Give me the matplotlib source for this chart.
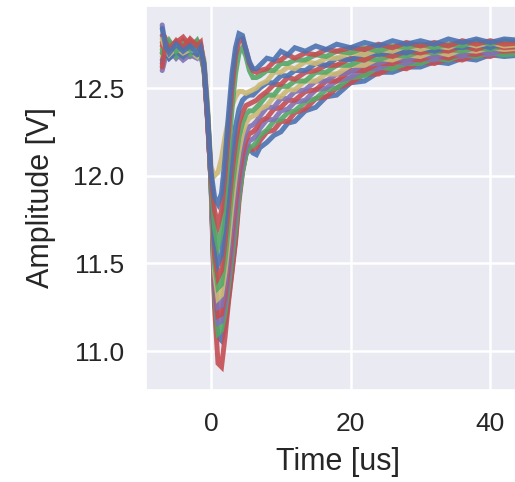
import matplotlib
matplotlib.use("Agg")
import matplotlib.pyplot as plt
import seaborn as sns

sns.set_theme(style="darkgrid")
plt.rcParams["font.family"] = ["Liberation Sans", "DejaVu Sans"]

# Sample times of every recorded trace [us]
time_us = [-7.0, -6.5, -6, -5, -4, -3, -2, -1.5, -1, -0.5, 0,
           0.5, 1, 1.5, 2, 2.5, 3, 3.5, 4, 4.5, 5, 5.5, 6, 6.5, 7,
           8, 9, 10, 11, 12, 13.5, 15, 16.5, 18,
           20, 22, 24, 26, 28, 30, 32, 34, 36, 38, 40, 42, 45]

# Recorded supply amplitude of each event [V]
trace_01 = [12.84, 12.74, 12.70, 12.75, 12.71, 12.74, 12.70, 12.73, 12.64, 12.36, 12.02,
            11.88, 11.84, 11.90, 12.10, 12.35, 12.58, 12.73, 12.81, 12.80, 12.72, 12.65, 12.61, 12.61, 12.63,
            12.67, 12.66, 12.71, 12.69, 12.73, 12.71, 12.74, 12.72, 12.75,
            12.73, 12.76, 12.74, 12.77, 12.75, 12.77, 12.75, 12.78, 12.76, 12.78, 12.76, 12.78, 12.77]
trace_02 = [12.62, 12.76, 12.72, 12.77, 12.73, 12.78, 12.74, 12.76, 12.62, 12.33, 12.00,
            11.80, 11.72, 11.80, 12.00, 12.25, 12.50, 12.68, 12.77, 12.78, 12.72, 12.64, 12.60, 12.59, 12.60,
            12.61, 12.65, 12.66, 12.69, 12.67, 12.70, 12.69, 12.72, 12.71,
            12.73, 12.72, 12.75, 12.73, 12.76, 12.74, 12.76, 12.74, 12.77, 12.75, 12.77, 12.75, 12.76]
trace_03 = [12.70, 12.73, 12.77, 12.71, 12.75, 12.72, 12.77, 12.72, 12.60, 12.35, 11.98,
            11.70, 11.60, 11.68, 11.88, 12.12, 12.38, 12.58, 12.70, 12.73, 12.68, 12.60, 12.56, 12.56, 12.57,
            12.60, 12.60, 12.64, 12.64, 12.66, 12.66, 12.69, 12.68, 12.71,
            12.70, 12.73, 12.71, 12.74, 12.73, 12.75, 12.73, 12.75, 12.74, 12.77, 12.75, 12.77, 12.76]
trace_04 = [12.78, 12.72, 12.69, 12.73, 12.70, 12.72, 12.71, 12.74, 12.66, 12.40, 12.05,
            12.00, 12.02, 12.10, 12.22, 12.32, 12.40, 12.45, 12.48, 12.48, 12.47, 12.48, 12.49, 12.50, 12.52,
            12.54, 12.59, 12.59, 12.62, 12.61, 12.65, 12.64, 12.67, 12.67,
            12.70, 12.69, 12.72, 12.71, 12.74, 12.72, 12.74, 12.73, 12.76, 12.74, 12.76, 12.74, 12.75]
trace_05 = [12.66, 12.70, 12.67, 12.71, 12.68, 12.72, 12.69, 12.70, 12.62, 12.34, 11.98,
            11.62, 11.50, 11.55, 11.72, 11.92, 12.12, 12.28, 12.38, 12.43, 12.45, 12.46, 12.46, 12.48, 12.50,
            12.53, 12.53, 12.57, 12.57, 12.60, 12.60, 12.64, 12.63, 12.67,
            12.66, 12.70, 12.69, 12.71, 12.70, 12.73, 12.71, 12.74, 12.73, 12.75, 12.73, 12.76, 12.74]
trace_06 = [12.74, 12.78, 12.74, 12.76, 12.79, 12.74, 12.77, 12.75, 12.63, 12.32, 11.97,
            11.55, 11.42, 11.46, 11.62, 11.82, 12.02, 12.18, 12.30, 12.36, 12.40, 12.41, 12.42, 12.43, 12.45,
            12.48, 12.52, 12.52, 12.56, 12.55, 12.59, 12.60, 12.63, 12.63,
            12.67, 12.66, 12.70, 12.68, 12.71, 12.70, 12.72, 12.71, 12.74, 12.72, 12.75, 12.73, 12.74]
trace_07 = [12.72, 12.69, 12.73, 12.68, 12.72, 12.69, 12.73, 12.71, 12.61, 12.36, 11.98,
            11.50, 11.36, 11.38, 11.52, 11.72, 11.92, 12.08, 12.22, 12.30, 12.35, 12.37, 12.37, 12.39, 12.41,
            12.46, 12.46, 12.51, 12.51, 12.54, 12.54, 12.59, 12.59, 12.63,
            12.63, 12.67, 12.66, 12.69, 12.68, 12.71, 12.70, 12.72, 12.71, 12.73, 12.72, 12.74, 12.73]
trace_08 = [12.68, 12.72, 12.70, 12.73, 12.69, 12.71, 12.68, 12.72, 12.63, 12.35, 11.96,
            11.45, 11.30, 11.32, 11.45, 11.63, 11.83, 12.00, 12.14, 12.24, 12.30, 12.33, 12.34, 12.35, 12.38,
            12.40, 12.45, 12.45, 12.49, 12.49, 12.54, 12.54, 12.58, 12.58,
            12.63, 12.63, 12.67, 12.66, 12.69, 12.68, 12.71, 12.69, 12.72, 12.71, 12.73, 12.72, 12.73]
trace_09 = [12.60, 12.68, 12.72, 12.67, 12.71, 12.68, 12.71, 12.69, 12.60, 12.31, 11.97,
            11.42, 11.25, 11.26, 11.38, 11.55, 11.74, 11.92, 12.07, 12.18, 12.25, 12.28, 12.29, 12.31, 12.34,
            12.39, 12.39, 12.44, 12.44, 12.48, 12.49, 12.54, 12.54, 12.58,
            12.59, 12.64, 12.64, 12.67, 12.66, 12.69, 12.68, 12.70, 12.69, 12.72, 12.70, 12.73, 12.72]
trace_10 = [12.80, 12.75, 12.71, 12.76, 12.72, 12.77, 12.73, 12.74, 12.62, 12.34, 11.96,
            11.38, 11.20, 11.21, 11.32, 11.48, 11.66, 11.84, 12.00, 12.12, 12.20, 12.24, 12.25, 12.27, 12.31,
            12.33, 12.38, 12.39, 12.43, 12.43, 12.48, 12.49, 12.54, 12.54,
            12.60, 12.60, 12.64, 12.64, 12.67, 12.66, 12.69, 12.67, 12.70, 12.69, 12.72, 12.71, 12.72]
trace_11 = [12.86, 12.71, 12.67, 12.70, 12.66, 12.69, 12.67, 12.70, 12.61, 12.33, 11.97,
            11.35, 11.16, 11.17, 11.27, 11.42, 11.59, 11.77, 11.94, 12.07, 12.16, 12.20, 12.21, 12.23, 12.27,
            12.32, 12.32, 12.37, 12.38, 12.42, 12.43, 12.49, 12.50, 12.54,
            12.56, 12.61, 12.61, 12.65, 12.64, 12.67, 12.66, 12.69, 12.68, 12.70, 12.69, 12.72, 12.71]
trace_12 = [12.70, 12.74, 12.70, 12.74, 12.71, 12.75, 12.72, 12.73, 12.64, 12.37, 11.96,
            11.32, 11.10, 11.12, 11.22, 11.37, 11.53, 11.70, 11.88, 12.02, 12.12, 12.16, 12.17, 12.19, 12.23,
            12.26, 12.31, 12.32, 12.36, 12.37, 12.42, 12.44, 12.49, 12.50,
            12.56, 12.57, 12.62, 12.61, 12.64, 12.64, 12.67, 12.66, 12.69, 12.68, 12.70, 12.69, 12.70]
trace_13 = [12.64, 12.70, 12.74, 12.70, 12.73, 12.70, 12.74, 12.71, 12.62, 12.32, 11.97,
            11.30, 11.08, 11.06, 11.14, 11.30, 11.46, 11.64, 11.88, 12.03, 12.13, 12.16, 12.13, 12.12, 12.16,
            12.19, 12.23, 12.25, 12.30, 12.31, 12.37, 12.39, 12.45, 12.46,
            12.53, 12.54, 12.59, 12.59, 12.62, 12.62, 12.65, 12.64, 12.67, 12.66, 12.69, 12.68, 12.69]
trace_14 = [12.76, 12.73, 12.76, 12.72, 12.77, 12.73, 12.76, 12.74, 12.63, 12.35, 11.95,
            11.25, 10.93, 10.91, 11.08, 11.28, 11.45, 11.62, 11.85, 12.02, 12.12, 12.16, 12.15, 12.16, 12.20,
            12.25, 12.26, 12.31, 12.31, 12.36, 12.38, 12.44, 12.45, 12.50,
            12.53, 12.58, 12.58, 12.62, 12.61, 12.65, 12.64, 12.67, 12.66, 12.69, 12.68, 12.71, 12.70]

traces = [trace_13, trace_14, trace_12, trace_11, trace_10, trace_09, trace_08,
          trace_07, trace_06, trace_05, trace_04, trace_03, trace_02, trace_01]

# Classic seaborn "deep" colours, one per trace in drawing order
colors = ["#4C72B0", "#C44E52", "#55A868", "#8172B2", "#C44E52", "#8172B2", "#CCB974",
          "#55A868", "#C44E52", "#4C72B0", "#CCB974", "#55A868", "#C44E52", "#4C72B0"]

fig = plt.figure(figsize=(5.15, 4.82), dpi=100)
ax = fig.add_axes([146 / 515, 92 / 482, 384 / 515, 384 / 482])

for values, color in zip(traces, colors):
    ax.plot(time_us, values, color=color, linewidth=3.6, alpha=0.9,
            solid_joinstyle="miter")

ax.set_xlim(-9.32, 45.7)
ax.set_ylim(10.778, 12.968)
ax.set_xticks([0, 20, 40])
ax.set_yticks([11.0, 11.5, 12.0, 12.5])
ax.grid(True, color="white", linewidth=1.8)
ax.tick_params(axis="both", labelsize=19, pad=16, length=0, labelcolor="#262626")
ax.set_xlabel("Time [us]", fontsize=22, color="#262626", labelpad=8)
ax.set_ylabel("Amplitude [V]", fontsize=22, color="#262626", labelpad=12)

fig.savefig("out.png", dpi=100)
